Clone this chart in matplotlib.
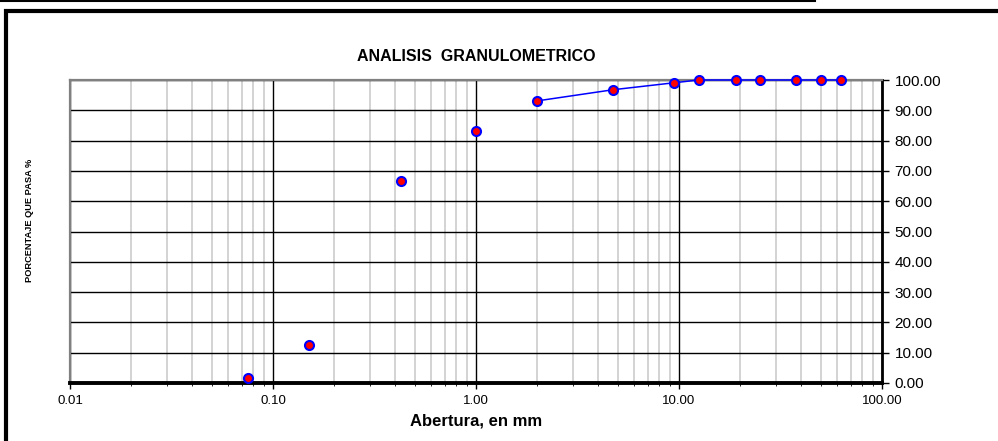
import numpy as np
import matplotlib
matplotlib.use('Agg')
from matplotlib import pyplot as plt
from matplotlib.ticker import NullFormatter, LogLocator
from matplotlib.patches import Rectangle
from matplotlib.lines import Line2D

plt.rcParams['font.family'] = ['Liberation Sans', 'DejaVu Sans']

# sieve openings (mm) and percent passing
abertura = [0.075, 0.15, 0.425, 1.0, 2.0, 4.75, 9.5, 12.5, 19.0, 25.0, 37.5, 50.0, 63.0]
pasa = [1.6, 12.5, 66.6, 83.2, 93.1, 96.8, 99.1, 100.0, 100.0, 100.0, 100.0, 100.0, 100.0]
x_ticks = [0.01, 0.1, 1.0, 10.0, 100.0]
x_tick_labels = ['0.01', '0.10', '1.00', '10.00', '100.00']
y_ticks = [0, 10, 20, 30, 40, 50, 60, 70, 80, 90, 100]

fig = plt.figure(figsize=(9.98, 4.41), dpi=100)
ax = fig.add_axes([70 / 998, 1 - 383 / 441, 812 / 998, 303 / 441])

ax.set_xscale('log')
ax.set_xlim(0.01, 100)
ax.set_ylim(0, 100)

# grid
ax.xaxis.set_minor_locator(LogLocator(base=10, subs=np.arange(2, 10)))
ax.xaxis.set_minor_formatter(NullFormatter())
ax.grid(which='minor', axis='x', color='#d0d0d0', lw=1.3)
ax.grid(which='major', axis='x', color='black', lw=1.0)
ax.grid(which='major', axis='y', color='black', lw=1.0)
ax.set_axisbelow(True)

ax.set_xticks(x_ticks)
ax.set_xticklabels(x_tick_labels, fontsize=9.5)
ax.set_yticks(y_ticks)
ax.set_yticklabels(['%.2f' % v for v in y_ticks], fontsize=11)
ax.yaxis.tick_right()
ax.tick_params(axis='y', which='major', length=5, width=1, color='black', pad=4)
ax.tick_params(axis='x', which='major', length=4, width=1, pad=5)
ax.tick_params(axis='x', which='minor', length=2, width=0.6)

for side in ['left', 'top']:
    ax.spines[side].set_color('#808080')
    ax.spines[side].set_linewidth(1.6)
ax.spines['bottom'].set_color('black')
ax.spines['bottom'].set_linewidth(2.8)
ax.spines['right'].set_color('black')
ax.spines['right'].set_linewidth(2.0)

# line only over the coarse fraction, markers at every sieve
ax.plot(abertura[4:], pasa[4:], color='#0000ff', lw=1.1, zorder=3, clip_on=False)
ax.plot(abertura, pasa, ls='none', marker='o', markersize=6.5,
        markerfacecolor='#ff0000', markeredgecolor='#0000ff', markeredgewidth=1.5,
        zorder=4, clip_on=False)

ax.set_title('ANALISIS  GRANULOMETRICO', fontsize=11.5, fontweight='bold', pad=14)
ax.set_xlabel('Abertura, en mm', fontsize=12, fontweight='bold', labelpad=4)
fig.text(30 / 998, 1 - 220 / 441, 'PORCENTAJE QUE PASA %', rotation=90,
         fontsize=6.7, fontweight='bold', ha='center', va='center')

# chart frame
fig.patches.append(Rectangle((6 / 998, -0.1), 1.1, 1 - 10.5 / 441 + 0.1,
                             transform=fig.transFigure, fill=False,
                             edgecolor='black', lw=3))
fig.lines.append(Line2D([0, 815 / 998], [1 - 0.8 / 441, 1 - 0.8 / 441],
                        transform=fig.transFigure, color='black', lw=1.5))

fig.savefig('out.png', dpi=100)
